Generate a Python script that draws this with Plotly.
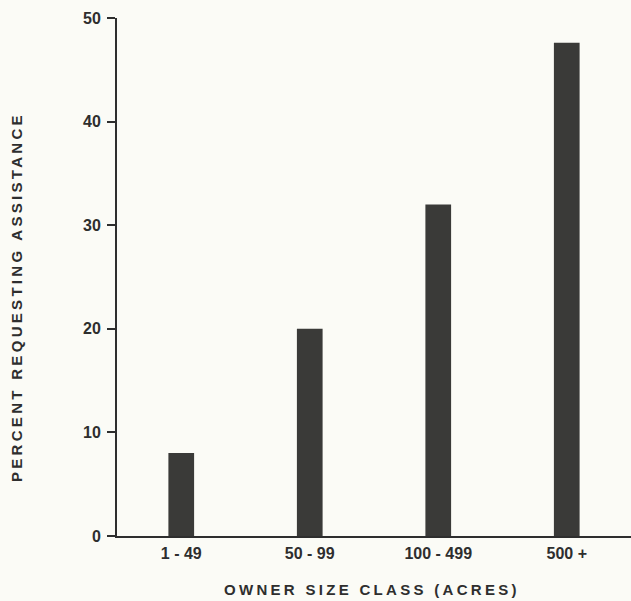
import plotly.graph_objects as go

categories = ["1 - 49", "50 - 99", "100 - 499", "500 +"]
percent_requesting = [8, 20, 32, 47.6]
y_ticks = [0, 10, 20, 30, 40, 50]

W, H = 631, 601
L, R, T, B = 117, 0, 18, 65
bg = "#fbfbf6"
ink = "#2e2e2e"
fam = "Liberation Sans, Arial, sans-serif"

fig = go.Figure()
fig.add_trace(go.Bar(
    x=categories, y=percent_requesting,
    marker=dict(color="#3a3a38", line=dict(width=0)),
    width=0.2,
))

plot_w = W - L - R
plot_h = H - T - B

fig.update_layout(
    width=W, height=H,
    margin=dict(l=L, r=R, t=T, b=B, pad=0),
    paper_bgcolor=bg, plot_bgcolor=bg,
    showlegend=False,
    font=dict(family=fam, color=ink),
    xaxis=dict(
        type="category", showline=True, linecolor=ink, linewidth=2,
        ticks="", showgrid=False, zeroline=False,
        tickfont=dict(size=16, family=fam, color=ink, weight="bold"),
        ticklabelstandoff=2,
    ),
    yaxis=dict(
        range=[0, 50], tickvals=y_ticks, showline=True, linecolor=ink, linewidth=2,
        ticks="outside", ticklen=8, tickwidth=2, tickcolor=ink,
        showgrid=False, zeroline=False,
        tickfont=dict(size=16, family=fam, color=ink, weight="bold"),
        ticklabelstandoff=3,
    ),
    annotations=[
        dict(
            text='<span style="letter-spacing:3.3px">PERCENT REQUESTING ASSISTANCE</span>',
            xref="paper", yref="paper", x=0, y=(536 - 297) / plot_h,
            xanchor="center", yanchor="middle",
            xshift=-100, textangle=-90, showarrow=False,
            font=dict(size=15, family=fam, color=ink, weight="bold"),
        ),
        dict(
            text='<span style="letter-spacing:3.3px">OWNER SIZE CLASS (ACRES)</span>',
            xref="paper", yref="paper", x=(372 - L) / plot_w, y=0,
            xanchor="center", yanchor="middle", yshift=-53, showarrow=False,
            font=dict(size=15, family=fam, color=ink, weight="bold"),
        ),
    ],
)

post = ("document.documentElement.style.background='%s';"
        "document.body.style.margin='0';document.body.style.background='%s';"
        "document.body.style.overflow='hidden';" % (bg, bg))
fig.write_html("out.html", post_script=post, config={"displayModeBar": False})
